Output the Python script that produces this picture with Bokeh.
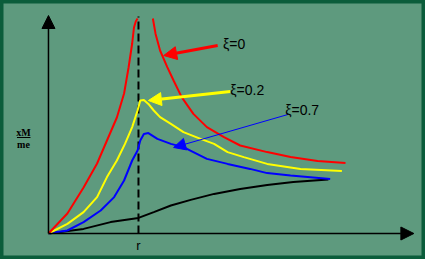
from bokeh.plotting import figure
from bokeh.models import Arrow, NormalHead, Label, Span
from bokeh.embed import file_html
from bokeh.resources import INLINE

# frequency ratio (r = 1 at resonance) and amplitude xM/me
red_left_x = [0.00, 0.21, 0.39, 0.54, 0.65, 0.76, 0.84, 0.89, 0.93, 0.95, 0.97, 0.99]
red_left_y = [0.00, 1.00, 2.30, 3.50, 4.65, 5.80, 7.00, 8.30, 9.50, 10.30, 10.60, 10.75]
red_right_x = [1.16, 1.19, 1.24, 1.32, 1.39, 1.48, 1.61, 1.76, 1.95, 2.13, 2.43, 2.69, 2.99, 3.30]
red_right_y = [10.75, 9.98, 9.15, 8.32, 7.65, 6.82, 5.98, 5.32, 4.82, 4.40, 4.07, 3.82, 3.62, 3.52]
yellow_x = [0.00, 0.21, 0.39, 0.54, 0.65, 0.76, 0.85, 0.93, 0.99, 1.02, 1.06, 1.11, 1.17, 1.24,
            1.36, 1.50, 1.69, 1.84, 1.99, 2.17, 2.43, 2.80, 3.26]
yellow_y = [0.00, 0.48, 1.07, 1.82, 2.82, 3.65, 4.48, 5.32, 6.15, 6.65, 6.68, 6.48, 6.15, 5.82,
            5.48, 5.07, 4.73, 4.48, 4.07, 3.82, 3.48, 3.23, 3.12]
blue_x = [0.00, 0.21, 0.39, 0.58, 0.73, 0.84, 0.93, 0.99, 1.02, 1.06, 1.11, 1.21, 1.36, 1.50,
          1.61, 1.76, 1.99, 2.24, 2.43, 2.69, 3.13]
blue_y = [0.00, 0.15, 0.57, 1.15, 1.82, 2.65, 3.65, 4.15, 4.65, 4.98, 5.02, 4.73, 4.48, 4.32,
          4.07, 3.73, 3.48, 3.23, 3.02, 2.90, 2.73]
black_x = [0.00, 0.39, 0.69, 1.00, 1.17, 1.36, 1.58, 1.84, 2.13, 2.43, 2.72, 3.11]
black_y = [0.00, 0.23, 0.57, 0.78, 1.07, 1.40, 1.68, 1.98, 2.23, 2.43, 2.57, 2.70]

labels = ["ξ=0", "ξ=0.2", "ξ=0.7"]
r_tick = "r"

BG = "#5E9A7E"
FONT = "Liberation Sans"

p = figure(width=425, height=259, x_range=(-0.533, 4.189), y_range=(-1.3, 11.65),
           x_axis_type=None, y_axis_type=None, toolbar_location=None,
           output_backend="svg", min_border=0)
p.background_fill_color = BG
p.border_fill_color = BG
p.outline_line_color = "#0B5D3B"
p.outline_line_width = 6
p.grid.visible = False

# axes with arrow heads
p.add_layout(Arrow(x_start=0, y_start=0, x_end=4.06, y_end=0, line_color="black", line_width=1.5,
                   end=NormalHead(size=13, fill_color="black", line_color="black")))
p.add_layout(Arrow(x_start=0, y_start=0, x_end=0, y_end=10.9, line_color="black", line_width=1.5,
                   end=NormalHead(size=13, fill_color="black", line_color="black")))

# resonance line
p.segment(x0=[1.0], y0=[0], x1=[1.0], y1=[10.85], line_color="black", line_width=2, line_dash="8 4")

p.line(black_x, black_y, line_color="black", line_width=2)
p.line(blue_x, blue_y, line_color="#0000FF", line_width=2)
p.line(yellow_x, yellow_y, line_color="#FFFF00", line_width=2)
p.line(red_left_x, red_left_y, line_color="#FF0000", line_width=2)
p.line(red_right_x, red_right_y, line_color="#FF0000", line_width=2)

# callouts
p.add_layout(Arrow(x_start=1.88, y_start=9.4, x_end=1.28, y_end=8.9, line_color="#FF0000", line_width=3,
                   end=NormalHead(size=13, fill_color="#FF0000", line_color="#FF0000")))
p.add_layout(Arrow(x_start=2.02, y_start=7.1, x_end=1.11, y_end=6.65, line_color="#FFFF00", line_width=3,
                   end=NormalHead(size=13, fill_color="#FFFF00", line_color="#FFFF00")))
p.add_layout(Arrow(x_start=2.66, y_start=5.95, x_end=1.39, y_end=4.3, line_color="#0000FF", line_width=1,
                   end=NormalHead(size=12, fill_color="#0000FF", line_color="#0000FF")))

for (lx, ly), t in zip([(1.94, 9.5), (2.02, 7.2), (2.63, 6.2)], labels):
    p.add_layout(Label(x=lx, y=ly, text=t, text_font=FONT, text_font_size="14px",
                       text_color="black", text_baseline="middle", text_align="left"))

p.add_layout(Label(x=1.0, y=-0.6, text=r_tick, text_font=FONT, text_font_size="13px",
                   text_color="black", text_baseline="middle", text_align="center"))

# y-axis label as a fraction
p.add_layout(Label(x=23, y=127, x_units="screen", y_units="screen", text="xM",
                   text_font="Liberation Serif", text_font_size="10px", text_font_style="bold",
                   text_align="center", text_baseline="middle", text_color="black"))
p.add_layout(Label(x=23, y=115, x_units="screen", y_units="screen", text="me",
                   text_font="Liberation Serif", text_font_size="10px", text_font_style="bold",
                   text_align="center", text_baseline="middle", text_color="black"))
p.segment(x0=[-0.35], y0=[4.8], x1=[-0.2], y1=[4.8], line_color="black", line_width=1)

open("out.html", "w").write(file_html(p, INLINE))
